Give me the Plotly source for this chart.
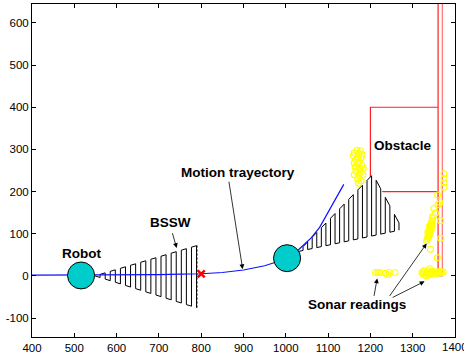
import plotly.graph_objects as go

# ---------------- data ----------------
traj_x = [400, 450, 500, 550, 600, 650, 700, 750, 800, 850, 900, 950, 1000, 1030, 1060, 1080, 1100, 1120, 1137]
traj_y = [2, 2, 2, 2, 2, 2, 3, 4, 5, 8, 14, 24, 40, 62, 90, 115, 150, 185, 217]

robot_x = [516, 1003]
robot_y = [1, 42]
robot_r = 32

goal_x = [800]
goal_y = [5]

# BSSW wedges (apex, vertex, vertex)
wedge1_x = [549, 790, 790]
wedge1_y = [0, 72, -76]
wedge2_x = [1030, 1206, 1276]
wedge2_y = [58, 241, 110]

# obstacle and wall
obst_x = [1360, 1200, 1200, 1360]
obst_y = [400, 400, 200, 200]
wall_x = [1360, 1360, 1370, 1370]
wall_y = [700, 0, 0, 700]

sonar_x = [1168, 1176, 1162, 1172, 1180, 1160, 1170, 1178, 1165, 1174, 1162, 1170, 1180, 1164, 1175, 1183,
           1166, 1176, 1162, 1172, 1182, 1170, 1178, 1172,
           1212, 1218, 1222, 1236, 1241, 1244, 1258,
           1322, 1325, 1328, 1330, 1333, 1336, 1338, 1341, 1344, 1347, 1350, 1353, 1356, 1359, 1362, 1365,
           1368, 1372, 1340, 1326, 1332, 1345,
           1333, 1335, 1336, 1337, 1338, 1339, 1340, 1341, 1342, 1343, 1344, 1345, 1346, 1347, 1348, 1338,
           1341, 1344, 1336, 1340, 1346,
           1350, 1354, 1360, 1364, 1359, 1366, 1366, 1342, 1358,
           1374, 1374, 1374, 1374]
sonar_y = [298, 297, 292, 290, 288, 285, 282, 280, 276, 272, 268, 265, 262, 258, 255, 255,
           248, 245, 240, 238, 240, 230, 225, 220,
           8, 8, 8, 6, 3, 8, 8,
           8, 4, 10, 2, 7, 12, 5, 9, 6, 10, 7, 9, 6, 9, 7, 10,
           8, 9, 17, 12, 0, 3,
           84, 88, 92, 96, 100, 104, 108, 112, 116, 120, 124, 128, 132, 137, 142, 92,
           100, 110, 104, 118, 120,
           160, 149, 169, 174, 192, 131, 89, 63, 43,
           242, 231, 221, 210]

x_ticks = [400, 500, 600, 700, 800, 900, 1000, 1100, 1200, 1300, 1400]
y_ticks = [-100, 0, 100, 200, 300, 400, 500, 600]


# ---------------- helpers ----------------
def envelope(px, py, x):
    ys = []
    n = len(px)
    for i in range(n):
        x0, y0, x1, y1 = px[i], py[i], px[(i + 1) % n], py[(i + 1) % n]
        if x0 == x1:
            continue
        lo, hi = min(x0, x1), max(x0, x1)
        if lo <= x <= hi:
            ys.append(y0 + (y1 - y0) * (x - x0) / (x1 - x0))
    return min(ys), max(ys)


def meander(px, py, step):
    xs, ys = [], []
    x = min(px) + step
    up = True
    while x <= max(px) + 1e-6:
        lo, hi = envelope(px, py, x)
        if up:
            xs += [x, x]
            ys += [lo, hi]
        else:
            xs += [x, x]
            ys += [hi, lo]
        up = not up
        x += step
    return xs, ys


fig = go.Figure()

# obstacle + wall
fig.add_trace(go.Scatter(x=obst_x, y=obst_y, mode="lines", line=dict(color="#ff2020", width=1.2),
                         hoverinfo="skip", showlegend=False))
fig.add_trace(go.Scatter(x=wall_x[:2], y=wall_y[:2], mode="lines", line=dict(color="#ff2020", width=1.2),
                         hoverinfo="skip", showlegend=False))
fig.add_trace(go.Scatter(x=wall_x[1:], y=wall_y[1:], mode="lines", line=dict(color="#ff7070", width=1.2),
                         hoverinfo="skip", showlegend=False))

# wedges (white fill covering background)
for wx, wy, step in [(wedge1_x, wedge1_y, 12), (wedge2_x, wedge2_y, 10.8)]:
    fig.add_trace(go.Scatter(x=wx + [wx[0]], y=wy + [wy[0]], mode="lines", fill="toself",
                             fillcolor="white", line=dict(color="rgba(0,0,0,0)", width=0),
                             hoverinfo="skip", showlegend=False))
    mx, my = meander(wx, wy, step)
    fig.add_trace(go.Scatter(x=[wx[0]] + mx, y=[wy[0]] + my, mode="lines",
                             line=dict(color="black", width=1), hoverinfo="skip", showlegend=False))

fig.add_trace(go.Scatter(x=[wedge1_x[1], wedge1_x[2]], y=[wedge1_y[1], wedge1_y[2]], mode="lines",
                         line=dict(color="black", width=1, dash="2px,2px"), hoverinfo="skip", showlegend=False))

# trajectory
fig.add_trace(go.Scatter(x=traj_x, y=traj_y, mode="lines", line=dict(color="#1010ff", width=1.2),
                         hoverinfo="skip", showlegend=False))

# goal
fig.add_trace(go.Scatter(x=goal_x, y=goal_y, mode="markers",
                         marker=dict(symbol="x-thin", size=7, line=dict(color="red", width=2.5)),
                         hoverinfo="skip", showlegend=False))

# sonar readings
fig.add_trace(go.Scatter(x=sonar_x, y=sonar_y, mode="markers",
                         marker=dict(symbol="circle-open", size=6, color="#ffff00", line=dict(width=1.1, color="#ffff00")),
                         hoverinfo="skip", showlegend=False))

# robots
for cx, cy in zip(robot_x, robot_y):
    fig.add_shape(type="circle", xref="x", yref="y", x0=cx - robot_r, x1=cx + robot_r,
                  y0=cy - robot_r, y1=cy + robot_r, fillcolor="#00cccc",
                  line=dict(color="black", width=1), layer="above")

font_lbl = dict(family="Arial, Liberation Sans, sans-serif", size=13.5, color="black")
labels = [("<b>Robot</b>", 516, 54), ("<b>BSSW</b>", 728, 126), ("<b>Motion trayectory</b>", 887, 246),
          ("<b>Obstacle</b>", 1278, 310), ("<b>Sonar readings</b>", 1169, -69)]
for t, x, y in labels:
    fig.add_annotation(x=x, y=y, text=t, showarrow=False, font=font_lbl, xanchor="center", yanchor="middle")

arrows = [(742, 66, 731, 105), (898, 16, 865, 227), (1216, -6, 1208, -51),
          (1333, 77, 1243, -51), (1328, -13, 1249, -53)]
for x, y, ax, ay in arrows:
    fig.add_annotation(x=x, y=y, ax=ax, ay=ay, axref="x", ayref="y", text="", showarrow=True,
                       arrowhead=2, arrowsize=1.2, arrowwidth=0.8, arrowcolor="black", standoff=0)

tick_font = dict(family="Arial, Liberation Sans, sans-serif", size=11.5, color="black")
# last x tick label (partly cut off by the page edge, as in the reference)
fig.add_annotation(x=x_ticks[-1], y=0, xref="x", yref="paper", text=str(x_ticks[-1]), showarrow=False,
                   font=tick_font, xanchor="center", yanchor="top", yshift=-2)

axis_common = dict(showline=True, linecolor="black", linewidth=1, mirror="allticks", ticks="inside",
                   ticklen=4, tickcolor="black", showgrid=False, zeroline=False, automargin=False,
                   tickfont=tick_font)
fig.update_xaxes(range=[400, 1400], tickvals=x_ticks[:-1], ticktext=[str(v) for v in x_ticks[:-1]], **axis_common)
fig.update_yaxes(range=[-145, 645], tickvals=y_ticks, ticktext=[str(v) for v in y_ticks], **axis_common)

fig.update_layout(width=464, height=360, margin=dict(l=32, r=9, t=4, b=23),
                  plot_bgcolor="white", paper_bgcolor="white", showlegend=False)

fig.write_html("out.html", config={"displayModeBar": False},
               post_script="document.body.style.margin='0';document.body.style.overflow='hidden';")
